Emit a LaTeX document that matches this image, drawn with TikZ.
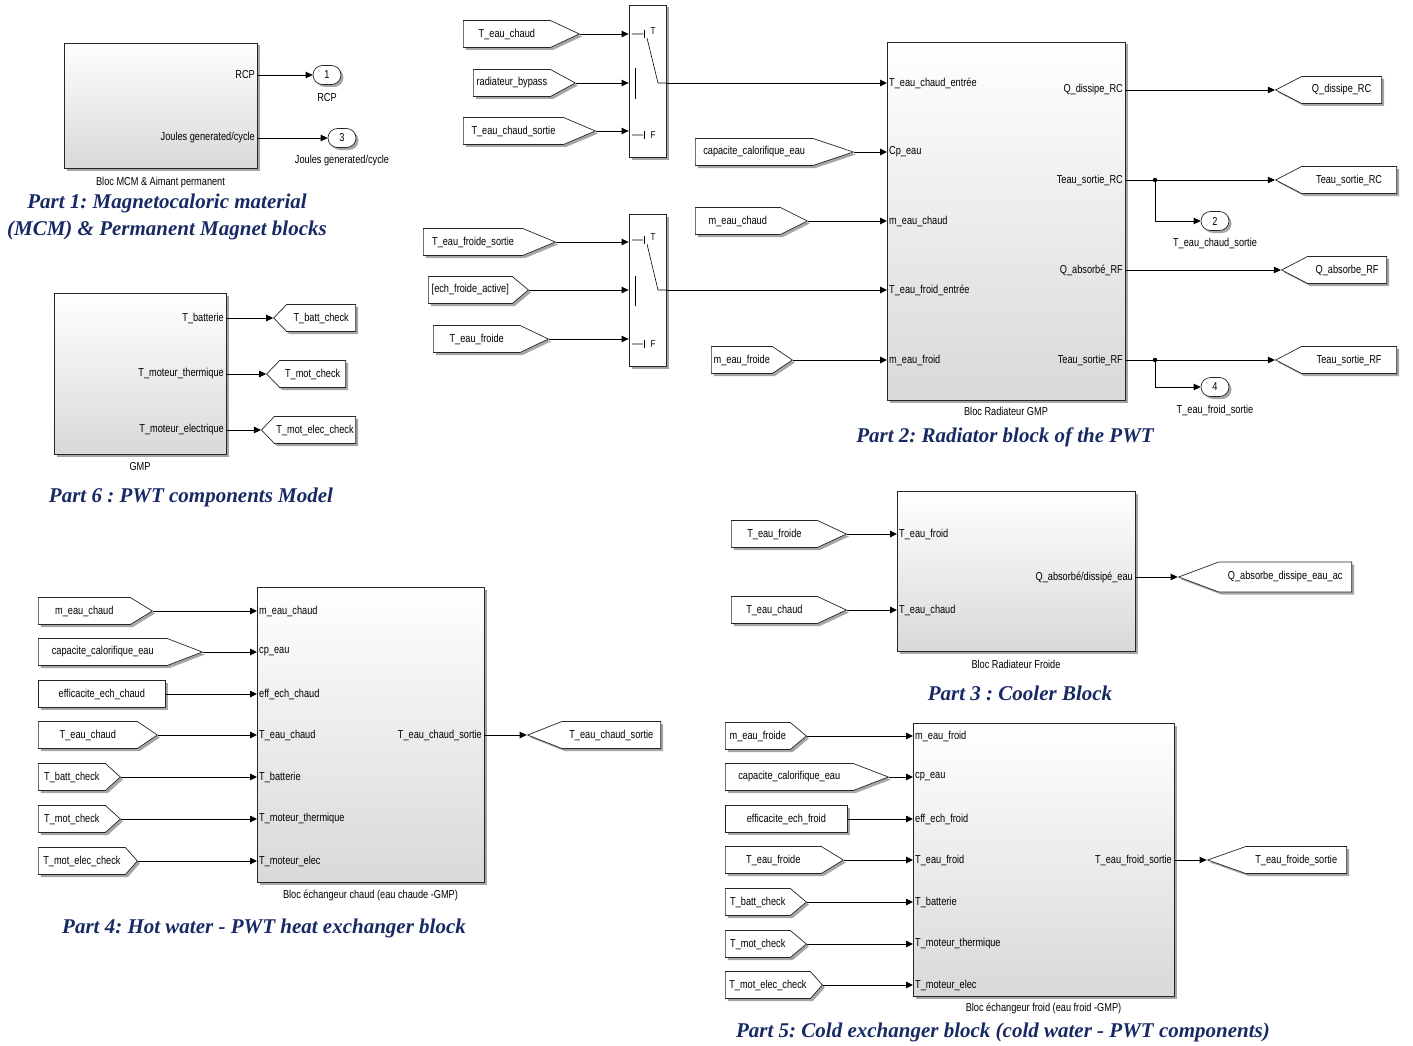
\documentclass[tikz,border=0pt]{standalone}
\usepackage{fontspec}
\setmainfont{Liberation Sans}[FakeStretch=0.8]
\newfontfamily\titlefont{Liberation Serif}
\usetikzlibrary{arrows.meta,positioning,shapes.symbols,shapes.misc,shadows}
\definecolor{titleblue}{RGB}{24,42,100}
\frenchspacing
\tikzset{
    sim-shadow/.style = {drop shadow={shadow xshift=2.5pt, shadow yshift=-2.5pt, fill=black!35, opacity=1}},
    sim-block/.style = {draw=black!85, line width=0.8pt, rectangle, top color=white, bottom color=black!15, inner sep=0pt, sim-shadow},
    switch-block/.style = {draw=black!85, line width=0.8pt, rectangle, fill=white, inner sep=0pt, sim-shadow},
    from-tag/.style = {draw=black!85, line width=0.7pt, signal, signal to=east, fill=white, minimum height=27pt, inner sep=2pt, anchor=west, sim-shadow},
    goto-tag/.style = {from-tag, signal to=west, anchor=east},
    const-block/.style = {draw=black!85, line width=0.7pt, rectangle, fill=white, minimum height=27pt, inner sep=2pt, anchor=west, sim-shadow},
    out-port/.style = {draw=black!85, line width=0.7pt, rounded rectangle, fill=white, minimum width=30pt, minimum height=19pt, inner sep=1pt, sim-shadow},
    port-in/.style = {anchor=west, inner xsep=2pt, inner ysep=1pt},
    port-out/.style = {anchor=east, inner xsep=2pt, inner ysep=1pt},
    sig-line/.style = {line width=0.9pt, -{Triangle[length=7pt, width=6.5pt]}},
    sw-mark/.style = {inner sep=0pt, font=\fontsize{10}{12}\selectfont},
    part-title/.style = {font=\titlefont\bfseries\itshape\fontsize{21}{27}\selectfont, text=titleblue, align=center},
}

\begin{document}
\begin{tikzpicture}[x=1pt, y=-1pt, every node/.style={font=\fontsize{11.5}{13}\selectfont}]
\path[use as bounding box, fill=white] (0,0) rectangle (1413,1046);

% Part 1
\node[sim-block, minimum width=193pt, minimum height=125pt] (mcm) at (160.5,105.5) {};
\node[port-out] (mcm-rcp) at (257,75) {RCP};
\node[port-out] (mcm-joules) at (257,138) {Joules generated/cycle};
\node[below=5pt of mcm] (mcm-name) {Bloc MCM \& Aimant permanent};
\node[out-port] (out-1) at (327,75) {1};
\node[below=5pt of out-1] (out-1-name) {RCP};
\node[out-port] (out-3) at (342,138) {3};
\node[below=4pt of out-3] (out-3-name) {Joules generated/cycle};
\draw[sig-line] (mcm-rcp.east) -- (out-1.west);
\draw[sig-line] (mcm-joules.east) -- (out-3.west);
\node[part-title] (title-1) at (167,216.5) {Part 1: Magnetocaloric material\\(MCM) \& Permanent Magnet blocks};

% Part 6
\node[sim-block, minimum width=172pt, minimum height=161pt] (gmp) at (140,373.5) {};
\node[port-out] (gmp-batt) at (226,318) {T\_batterie};
\node[port-out] (gmp-therm) at (226,374) {T\_moteur\_thermique};
\node[port-out] (gmp-elec) at (226,430) {T\_moteur\_electrique};
\node[below=5pt of gmp] (gmp-name) {GMP};
\node[goto-tag, minimum width=82pt, signal pointer angle=92] (gmp-gt-batt) at (356,318) {T\_batt\_check};
\node[goto-tag, minimum width=79pt, signal pointer angle=92] (gmp-gt-mot) at (346,374) {T\_mot\_check};
\node[goto-tag, minimum width=94pt, signal pointer angle=92] (gmp-gt-elec) at (356,430) {T\_mot\_elec\_check};
\draw[sig-line] (gmp-batt.east) -- (gmp-gt-batt.west);
\draw[sig-line] (gmp-therm.east) -- (gmp-gt-mot.west);
\draw[sig-line] (gmp-elec.east) -- (gmp-gt-elec.west);
\node[part-title] (title-6) at (191,497) {Part 6 : PWT components Model};

% Part 2 - switches
\node[switch-block, minimum width=37pt, minimum height=152pt] (sw-chaud) at (647.5,81) {};
\node[from-tag, minimum width=116pt, signal pointer angle=50] (fr-chaud) at (463,34) {T\_eau\_chaud};
\node[from-tag, minimum width=102pt, signal pointer angle=57] (fr-bypass) at (473,83) {radiateur\_bypass};
\node[from-tag, minimum width=132pt, signal pointer angle=46] (fr-chaud-sortie) at (463,131) {T\_eau\_chaud\_sortie};
\draw[sig-line] (fr-chaud.east) -- (sw-chaud.west |- fr-chaud.east);
\draw[sig-line] (fr-bypass.east) -- (sw-chaud.west |- fr-bypass.east);
\draw[sig-line] (fr-chaud-sortie.east) -- (sw-chaud.west |- fr-chaud-sortie.east);
\draw[line width=0.6pt] (632,34) -- (643,34) (632,135) -- (643,135) (647,38) -- (658,83) -- (666,83);
\draw[line width=1.6pt] (644.5,30) -- (644.5,38) (644.5,131) -- (644.5,139);
\draw[line width=1pt] (635,68) -- (635,99);
\node[sw-mark] (sw-chaud-T) at (653,31) {T};
\node[sw-mark] (sw-chaud-F) at (653,135) {F};
\coordinate (sw-chaud-out) at (666,83);

\node[switch-block, minimum width=37pt, minimum height=152pt] (sw-froid) at (647.5,290) {};
\node[from-tag, minimum width=132pt, signal pointer angle=45] (fr-froide-sortie) at (423,242) {T\_eau\_froide\_sortie};
\node[from-tag, minimum width=100pt, signal pointer angle=80] (fr-ech-active) at (428,290) {[ech\_froide\_active]};
\node[from-tag, minimum width=115pt, signal pointer angle=51] (fr-froide) at (433,339) {T\_eau\_froide};
\draw[sig-line] (fr-froide-sortie.east) -- (sw-froid.west |- fr-froide-sortie.east);
\draw[sig-line] (fr-ech-active.east) -- (sw-froid.west |- fr-ech-active.east);
\draw[sig-line] (fr-froide.east) -- (sw-froid.west |- fr-froide.east);
\draw[line width=0.6pt] (632,240) -- (643,240) (632,344) -- (643,344) (647,244) -- (658,290) -- (666,290);
\draw[line width=1.6pt] (644.5,236) -- (644.5,244) (644.5,340) -- (644.5,348);
\draw[line width=1pt] (635,276) -- (635,306);
\node[sw-mark] (sw-froid-T) at (653,237) {T};
\node[sw-mark] (sw-froid-F) at (653,344) {F};
\coordinate (sw-froid-out) at (666,290);

% Part 2 - radiateur
\node[sim-block, minimum width=238pt, minimum height=358pt] (rad) at (1006,221) {};
\node[port-in] (rad-in1) at (887,83) {T\_eau\_chaud\_entrée};
\node[port-in] (rad-in2) at (887,152) {Cp\_eau};
\node[port-in] (rad-in3) at (887,221) {m\_eau\_chaud};
\node[port-in] (rad-in4) at (887,290) {T\_eau\_froid\_entrée};
\node[port-in] (rad-in5) at (887,360) {m\_eau\_froid};
\node[port-out] (rad-out1) at (1125,90) {Q\_dissipe\_RC};
\node[port-out] (rad-out2) at (1125,180) {Teau\_sortie\_RC};
\node[port-out] (rad-out3) at (1125,270) {Q\_absorbé\_RF};
\node[port-out] (rad-out4) at (1125,360) {Teau\_sortie\_RF};
\node[below=3pt of rad] (rad-name) {Bloc Radiateur GMP};
\node[from-tag, minimum width=158pt, signal pointer angle=37] (fr-cp) at (695,152) {capacite\_calorifique\_eau};
\node[from-tag, minimum width=112pt, signal pointer angle=53] (fr-m-chaud) at (695,221) {m\_eau\_chaud};
\node[from-tag, minimum width=81pt, signal pointer angle=68] (fr-m-froide) at (711,360) {m\_eau\_froide};
\draw[sig-line] (sw-chaud-out) -- (rad-in1.west);
\draw[sig-line] (fr-cp.east) -- (rad-in2.west);
\draw[sig-line] (fr-m-chaud.east) -- (rad-in3.west);
\draw[sig-line] (sw-froid-out) -- (rad-in4.west);
\draw[sig-line] (fr-m-froide.east) -- (rad-in5.west);
\node[goto-tag, minimum width=106pt, signal pointer angle=55] (gt-qdis) at (1382,90) {Q\_dissipe\_RC};
\node[goto-tag, minimum width=121pt, signal pointer angle=55] (gt-tsrc) at (1397,180) {Teau\_sortie\_RC};
\node[goto-tag, minimum width=105pt, signal pointer angle=55] (gt-qabs) at (1387,270) {Q\_absorbe\_RF};
\node[goto-tag, minimum width=121pt, signal pointer angle=55] (gt-tsrf) at (1397,360) {Teau\_sortie\_RF};
\node[out-port] (out-2) at (1215,221) {2};
\node[below=4pt of out-2] (out-2-name) {T\_eau\_chaud\_sortie};
\node[out-port] (out-4) at (1215,387) {4};
\node[below=5pt of out-4] (out-4-name) {T\_eau\_froid\_sortie};
\coordinate (br-rc) at (1155,180);
\coordinate (br-rf) at (1155,360);
\draw[sig-line] (rad-out1.east) -- (gt-qdis.west);
\draw[sig-line] (rad-out2.east) -- (gt-tsrc.west);
\draw[sig-line] (rad-out3.east) -- (gt-qabs.west);
\draw[sig-line] (rad-out4.east) -- (gt-tsrf.west);
\draw[sig-line] (br-rc) |- (out-2.west);
\draw[sig-line] (br-rf) |- (out-4.west);
\fill (br-rc) circle[radius=2.2pt] (br-rf) circle[radius=2.2pt];
\node[part-title] (title-2) at (1005,437) {Part 2: Radiator block of the PWT};

% Part 3
\node[sim-block, minimum width=238pt, minimum height=160pt] (cool) at (1016,571) {};
\node[port-in] (cool-in1) at (897,534) {T\_eau\_froid};
\node[port-in] (cool-in2) at (897,610) {T\_eau\_chaud};
\node[port-out] (cool-out) at (1135,577) {Q\_absorbé/dissipé\_eau};
\node[below=5pt of cool] (cool-name) {Bloc Radiateur Froide};
\node[from-tag, minimum width=115pt, signal pointer angle=50] (cool-fr-froide) at (731,534) {T\_eau\_froide};
\node[from-tag, minimum width=115pt, signal pointer angle=50] (cool-fr-chaud) at (731,610) {T\_eau\_chaud};
\node[goto-tag, minimum width=173pt, minimum height=30pt, signal pointer angle=41] (cool-gt) at (1352,577) {Q\_absorbe\_dissipe\_eau\_ac};
\draw[sig-line] (cool-fr-froide.east) -- (cool-in1.west);
\draw[sig-line] (cool-fr-chaud.east) -- (cool-in2.west);
\draw[sig-line] (cool-out.east) -- (cool-gt.west);
\node[part-title] (title-3) at (1020,693) {Part 3 : Cooler Block};

% Part 4
\node[sim-block, minimum width=227pt, minimum height=295pt] (hot) at (370.5,734.5) {};
\node[port-in] (hot-in1) at (257,611) {m\_eau\_chaud};
\node[port-in] (hot-in2) at (257,652) {cp\_eau};
\node[port-in] (hot-in3) at (257,694) {eff\_ech\_chaud};
\node[port-in] (hot-in4) at (257,735) {T\_eau\_chaud};
\node[port-in] (hot-in5) at (257,777) {T\_batterie};
\node[port-in] (hot-in6) at (257,819) {T\_moteur\_thermique};
\node[port-in] (hot-in7) at (257,861) {T\_moteur\_elec};
\node[port-out] (hot-out) at (484,735) {T\_eau\_chaud\_sortie};
\node[below=4pt of hot] (hot-name) {Bloc échangeur chaud (eau chaude -GMP)};
\node[from-tag, minimum width=114pt, signal pointer angle=63] (hot-fr1) at (38,611) {m\_eau\_chaud};
\node[from-tag, minimum width=164pt, signal pointer angle=42] (hot-fr2) at (38,652) {capacite\_calorifique\_eau};
\node[const-block, minimum width=127pt] (hot-eff) at (38,694) {efficacite\_ech\_chaud};
\node[from-tag, minimum width=119pt, signal pointer angle=68] (hot-fr4) at (38,735) {T\_eau\_chaud};
\node[from-tag, minimum width=82pt, signal pointer angle=84] (hot-fr5) at (38,777) {T\_batt\_check};
\node[from-tag, minimum width=82pt, signal pointer angle=84] (hot-fr6) at (38,819) {T\_mot\_check};
\node[from-tag, minimum width=99pt, signal pointer angle=97] (hot-fr7) at (38,861) {T\_mot\_elec\_check};
\node[goto-tag, minimum width=133pt, signal pointer angle=43] (hot-gt) at (661,735) {T\_eau\_chaud\_sortie};
\draw[sig-line] (hot-fr1.east) -- (hot-in1.west);
\draw[sig-line] (hot-fr2.east) -- (hot-in2.west);
\draw[sig-line] (hot-eff.east) -- (hot-in3.west);
\draw[sig-line] (hot-fr4.east) -- (hot-in4.west);
\draw[sig-line] (hot-fr5.east) -- (hot-in5.west);
\draw[sig-line] (hot-fr6.east) -- (hot-in6.west);
\draw[sig-line] (hot-fr7.east) -- (hot-in7.west);
\draw[sig-line] (hot-out.east) -- (hot-gt.west);
\node[part-title] (title-4) at (264,928) {Part 4: Hot water - PWT heat exchanger block};

% Part 5
\node[sim-block, minimum width=261pt, minimum height=273pt] (cold) at (1043.5,859.5) {};
\node[port-in] (cold-in1) at (913,736) {m\_eau\_froid};
\node[port-in] (cold-in2) at (913,777) {cp\_eau};
\node[port-in] (cold-in3) at (913,819) {eff\_ech\_froid};
\node[port-in] (cold-in4) at (913,860) {T\_eau\_froid};
\node[port-in] (cold-in5) at (913,902) {T\_batterie};
\node[port-in] (cold-in6) at (913,944) {T\_moteur\_thermique};
\node[port-in] (cold-in7) at (913,985) {T\_moteur\_elec};
\node[port-out] (cold-out) at (1174,860) {T\_eau\_froid\_sortie};
\node[below=3pt of cold] (cold-name) {Bloc échangeur froid (eau froid -GMP)};
\node[from-tag, minimum width=81pt, signal pointer angle=80] (cold-fr1) at (725,736) {m\_eau\_froide};
\node[from-tag, minimum width=163pt, signal pointer angle=42] (cold-fr2) at (725,777) {capacite\_calorifique\_eau};
\node[const-block, minimum width=122pt] (cold-eff) at (725,819) {efficacite\_ech\_froid};
\node[from-tag, minimum width=118pt, signal pointer angle=63] (cold-fr4) at (725,860) {T\_eau\_froide};
\node[from-tag, minimum width=81pt, signal pointer angle=80] (cold-fr5) at (725,902) {T\_batt\_check};
\node[from-tag, minimum width=81pt, signal pointer angle=80] (cold-fr6) at (725,944) {T\_mot\_check};
\node[from-tag, minimum width=97pt, signal pointer angle=97] (cold-fr7) at (725,985) {T\_mot\_elec\_check};
\node[goto-tag, minimum width=139pt, signal pointer angle=39] (cold-gt) at (1347,860) {T\_eau\_froide\_sortie};
\draw[sig-line] (cold-fr1.east) -- (cold-in1.west);
\draw[sig-line] (cold-fr2.east) -- (cold-in2.west);
\draw[sig-line] (cold-eff.east) -- (cold-in3.west);
\draw[sig-line] (cold-fr4.east) -- (cold-in4.west);
\draw[sig-line] (cold-fr5.east) -- (cold-in5.west);
\draw[sig-line] (cold-fr6.east) -- (cold-in6.west);
\draw[sig-line] (cold-fr7.east) -- (cold-in7.west);
\draw[sig-line] (cold-out.east) -- (cold-gt.west);
\node[part-title] (title-5) at (1003,1032) {Part 5: Cold exchanger block (cold water - PWT components)};
\end{tikzpicture}
\end{document}
